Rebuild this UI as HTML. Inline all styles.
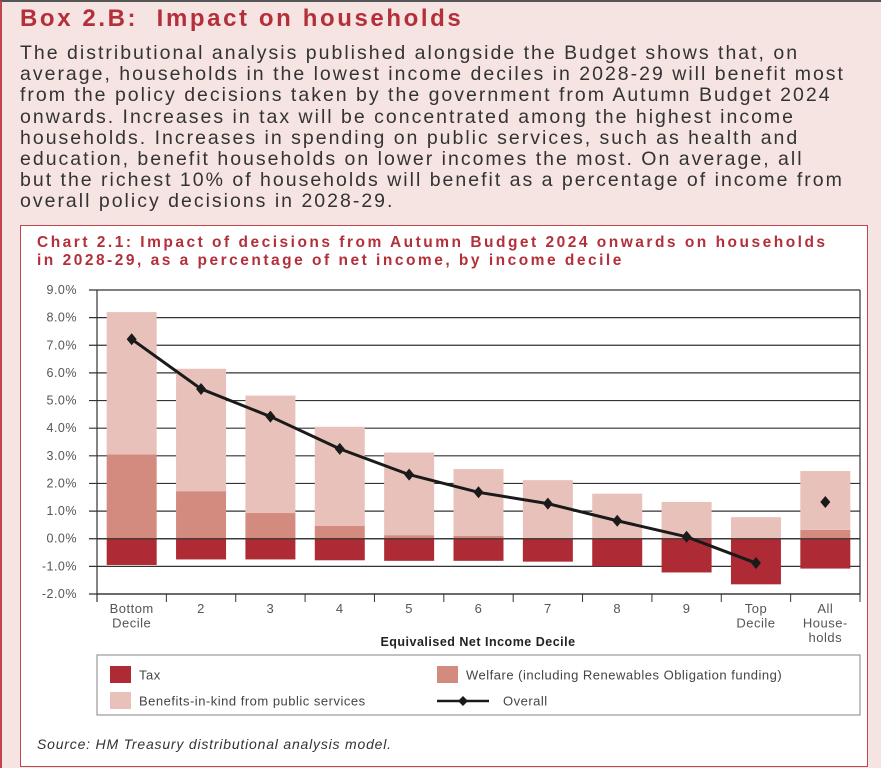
<!DOCTYPE html>
<html><head><meta charset="utf-8"><style>
body{margin:0;width:883px;height:768px;overflow:hidden;background:#fff;font-family:"Liberation Sans",sans-serif}
#outer{position:absolute;left:0;top:0;width:879px;height:766px;background:#f6e4e2;border-left:2px solid #c0454d;border-top:2px solid #555}
#h{position:absolute;left:18px;top:3px;font-size:24px;font-weight:bold;color:#b32f3a;letter-spacing:2.6px;white-space:nowrap}
#body{position:absolute;left:18px;top:41px;width:860px;font-size:19.5px;line-height:21.2px;color:#333;letter-spacing:2px;white-space:nowrap}
#box{position:absolute;left:20px;top:225px;width:846px;height:540px;background:#fff;border:1.5px solid #c0454d}
#ct{position:absolute;left:16px;top:8px;font-size:15.5px;font-weight:bold;color:#b32f3a;line-height:18px;letter-spacing:2.5px;white-space:nowrap}
#src{position:absolute;left:16px;top:510px;font-size:14px;font-style:italic;color:#333;letter-spacing:0.8px}
svg text{letter-spacing:0.5px}
</style></head><body>
<div id="outer">
<div id="h">Box 2.B:&nbsp; Impact on households</div>
<div id="body">The distributional analysis published alongside the Budget shows that, on<br>average, households in the lowest income deciles in 2028-29 will benefit most<br>from the policy decisions taken by the government from Autumn Budget 2024<br>onwards. Increases in tax will be concentrated among the highest income<br>households. Increases in spending on public services, such as health and<br>education, benefit households on lower incomes the most. On average, all<br>but the richest 10% of households will benefit as a percentage of income from<br>overall policy decisions in 2028-29.</div>
</div>
<div id="box">
<div id="ct">Chart 2.1: Impact of decisions from Autumn Budget 2024 onwards on households<br>in 2028-29, as a percentage of net income, by income decile</div>
<div id="src">Source: HM Treasury distributional analysis model.</div>
</div>
<svg id="chart" width="883" height="768" style="position:absolute;left:0;top:0"></svg>
<script>
const categories=[["Bottom","Decile"],["2"],["3"],["4"],["5"],["6"],["7"],["8"],["9"],["Top","Decile"],["All","House-","holds"]];
const taxValues=[-0.95,-0.75,-0.75,-0.78,-0.8,-0.8,-0.83,-1.0,-1.22,-1.65,-1.08];
const welfareValues=[3.05,1.72,0.93,0.47,0.13,0.1,0.02,0.02,0.02,0.02,0.32];
const benefitsValues=[5.15,4.43,4.25,3.58,2.99,2.42,2.1,1.61,1.31,0.76,2.13];
const overallValues=[7.22,5.42,4.42,3.25,2.32,1.68,1.27,0.65,0.07,-0.88,1.33];
const yTicks=[-2,-1,0,1,2,3,4,5,6,7,8,9];
const NS="http://www.w3.org/2000/svg";
const svg=document.getElementById('chart');
const X0=97,X1=860,Y9=290,Ym2=594;
const y=v=>Y9+(9-v)*(Ym2-Y9)/11;
const bw=(X1-X0)/categories.length;
const cx=i=>X0+bw*(i+0.5);
function mk(t,a,p){const e=document.createElementNS(NS,t);for(const k in a)e.setAttribute(k,a[k]);(p||svg).appendChild(e);return e;}
yTicks.forEach(v=>{
 const l=mk('line',{x1:X0-8,x2:X1,y1:y(v),y2:y(v),stroke:'#333','stroke-width':1.2});
 
 
 const t=mk('text',{x:X0-20,y:y(v)+4,'text-anchor':'end','font-size':12.5,fill:'#555'});
 t.textContent=v.toFixed(1)+'%';
 
 
});
mk('line',{x1:X0,x2:X0,y1:Y9,y2:Ym2+8,stroke:'#333','stroke-width':1.2});
mk('line',{x1:X1,x2:X1,y1:Y9,y2:Ym2,stroke:'#333','stroke-width':1.2});
mk('line',{x1:X0,x2:X1,y1:Ym2,y2:Ym2,stroke:'#333','stroke-width':1.2});
categories.forEach((c,i)=>{
 mk('line',{x1:X0+bw*(i+1),x2:X0+bw*(i+1),y1:Ym2,y2:Ym2+8,stroke:'#333'});
 const bx=cx(i)-25;
 const r1=mk('rect',{x:bx,y:y(0),width:50,height:y(taxValues[i])-y(0),fill:'#ae2b36'});
 
 
 const r2=mk('rect',{x:bx,y:y(welfareValues[i]),width:50,height:y(0)-y(welfareValues[i]),fill:'#d38b80'});
 
 
 const top=welfareValues[i]+benefitsValues[i];
 const r3=mk('rect',{x:bx,y:y(top),width:50,height:y(welfareValues[i])-y(top),fill:'#e8c1ba'});
 
 
 c.forEach((s,j)=>{const t=mk('text',{x:cx(i),y:613+j*14.5,'text-anchor':'middle','font-size':13,fill:'#555'});t.textContent=s;
 
 });
});
mk('line',{x1:X0,x2:X1,y1:y(0),y2:y(0),stroke:'#333','stroke-width':1.2});
const n=overallValues.length-1;
const pts=overallValues.slice(0,n).map((v,i)=>cx(i)+','+y(v)).join(' ');
const pl=mk('polyline',{points:pts,fill:'none',stroke:'#1a1a1a','stroke-width':3});


overallValues.forEach((v,i)=>{const d=mk('path',{d:`M${cx(i)},${y(v)-6}l5,6l-5,6l-5,-6z`,fill:'#1a1a1a'});
 
 });
const xt=mk('text',{x:478,y:646,'text-anchor':'middle','font-size':12.5,'font-weight':'bold',fill:'#222'});
xt.textContent='Equivalised Net Income Decile';


mk('rect',{x:97,y:655,width:763,height:60,fill:'none',stroke:'#999','stroke-width':1.2});
const legend=[['rect','#ae2b36','Tax',110,675],['rect','#d38b80','Welfare (including Renewables Obligation funding)',437,675],['rect','#e8c1ba','Benefits-in-kind from public services',110,701],['line','#1a1a1a','Overall',437,701]];
legend.forEach(L=>{
 const g=mk('g',{});
 
 
 if(L[0]==='rect')mk('rect',{x:L[3],y:L[4]-9,width:21,height:17,fill:L[1]},g);
 else{mk('line',{x1:L[3],x2:L[3]+52,y1:L[4],y2:L[4],stroke:L[1],'stroke-width':2.5},g);mk('path',{d:`M${L[3]+26},${L[4]-5}l5,5l-5,5l-5,-5z`,fill:L[1]},g);}
 const t=mk('text',{x:L[3]+(L[0]==='rect'?29:66),y:L[4]+4.5,'font-size':13,fill:'#444'},g);t.textContent=L[2];
});
</script>
</body></html>
